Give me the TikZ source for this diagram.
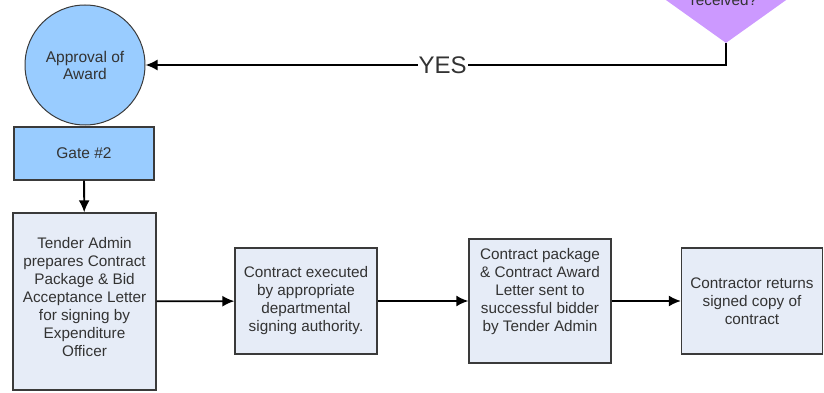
\documentclass[tikz,border=0pt]{standalone}
\usepackage{fontspec}
\setmainfont{Liberation Sans}
\usetikzlibrary{arrows.meta,shapes.geometric}
\definecolor{gateblue}{HTML}{99CCFF}
\definecolor{boxfill}{HTML}{E6ECF7}
\definecolor{lilac}{HTML}{CC99FF}
\definecolor{edge}{HTML}{3A3A3A}
\definecolor{txt}{HTML}{333333}

\begin{document}
\begin{tikzpicture}[x=1pt,y=-1pt,
  stepbox/.style={draw=edge,line width=1.3pt,fill=boxfill,align=center,
    text=txt,inner sep=2pt,font=\fontsize{15.3}{18}\selectfont},
  flow/.style={line width=1.8pt,-{Latex[length=12pt,width=11pt]}}]
\useasboundingbox (0,0) rectangle (824,393);
% decision (cut off by the page top)
\node[diamond,draw=none,fill=lilac,minimum width=168pt,minimum height=120pt,
  inner sep=0pt] (bids) at (726,-17) {};
\node[text=txt,font=\fontsize{15.3}{17}\selectfont] (recv) at (724,0) {received?};
% start and gate
\node[circle,draw=edge,line width=1pt,fill=gateblue,minimum size=120pt,
  align=center,text=txt,font=\fontsize{15.5}{17}\selectfont] (app) at (85,65)
  {Approval of\\Award};
\node[draw=edge,line width=1.3pt,fill=gateblue,minimum width=140pt,
  minimum height=53pt,text=txt,font=\fontsize{15.5}{17}\selectfont] (gate)
  at (84,153.5) {Gate \#2};
% steps
\node[stepbox,minimum width=143pt,minimum height=177pt,text depth=10pt] (tender)
  at (84.5,301.5)
  {Tender Admin\\prepares Contract\\Package \& Bid\\Acceptance Letter\\for signing by\\Expenditure\\Officer};
\node[stepbox,minimum width=142pt,minimum height=106pt] (exec) at (306,301)
  {Contract executed\\by appropriate\\departmental\\signing authority.};
\node[stepbox,minimum width=142pt,minimum height=124pt,text depth=22pt] (sent)
  at (540,301)
  {Contract package\\\& Contract Award\\Letter sent to\\successful bidder\\by Tender Admin};
\node[stepbox,minimum width=141pt,minimum height=106pt] (ret) at (752,301)
  {Contractor returns\\signed copy of\\contract};
% connectors
\draw[flow] (bids.south) |- node[pos=0.744,fill=white,inner sep=1pt,text=txt,
  font=\fontsize{24}{24}\selectfont] (yes) {YES} (app.east);
\draw[flow] (gate) -- (tender);
\draw[flow] (tender) -- (exec);
\draw[flow] (exec) -- (sent);
\draw[flow] (sent) -- (ret);
\end{tikzpicture}
\end{document}
